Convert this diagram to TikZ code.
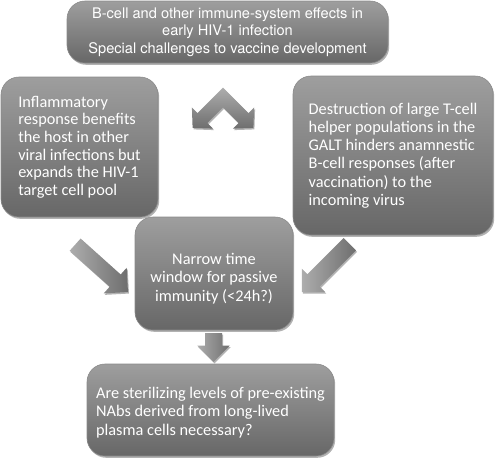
\documentclass[tikz,border=0pt]{standalone}
\usepackage{fontspec}
\newfontfamily\boxfont{Carlito}
\newfontfamily\topfont{TeX Gyre Heros}
\usetikzlibrary{shapes.arrows,shadows}
\definecolor{boxtop}{HTML}{9E9E9E}
\definecolor{boxbot}{HTML}{676767}
\definecolor{boxline}{HTML}{8A8A8A}
\definecolor{arrlight}{HTML}{ADADAD}
\definecolor{arrdark}{HTML}{6E6E6E}
\tikzset{
  box/.style={rounded corners=18pt, draw=boxline, line width=0.6pt,
    top color=boxtop, bottom color=boxbot, text=white, inner sep=0pt,
    drop shadow={shadow xshift=1.2pt, shadow yshift=-1.8pt, opacity=0.3, fill=black}},
  boxtext/.style={font=\boxfont\fontsize{16.3}{18.3}\selectfont},
  lefttext/.style={font=\boxfont\fontsize{16.3}{17.6}\selectfont},
  toptext/.style={font=\topfont\fontsize{14.6}{17.5}\selectfont},
  blockarr/.style={single arrow, draw=none, inner xsep=0pt, anchor=tail,
    left color=arrlight, right color=arrdark,
    drop shadow={shadow xshift=1pt, shadow yshift=-1.5pt, opacity=0.3, fill=black}},
  chevron/.style={draw=none, top color=arrlight, bottom color=arrdark,
    drop shadow={shadow xshift=1pt, shadow yshift=-1.5pt, opacity=0.3, fill=black}}
}
\begin{document}
\begin{tikzpicture}[x=1pt, y=-1pt]
\useasboundingbox (0,0) rectangle (495,459);

% boxes
\node[box, toptext, align=center, minimum width=321pt, minimum height=62pt] (top) at (227.5,32)
  {B-cell and other immune-system effects in\\ early HIV-1 infection\\ Special challenges to vaccine development};
\node[box, lefttext, align=left, minimum width=157pt, minimum height=140pt] (left) at (79.5,147)
  {Inflammatory\\ response benefits\\ the host in other\\ viral infections but\\ expands the HIV-1\\ target cell pool};
\node[box, boxtext, align=left, minimum width=200pt, minimum height=159pt] (right) at (393,155.5)
  {Destruction of large T-cell\\ helper populations in the\\ GALT hinders anamnestic\\ B-cell responses (after\\ vaccination) to the\\ incoming virus};
\node[box, minimum width=158pt, minimum height=113pt] (mid) at (214,273.5) {};
\node[boxtext, text=white, align=center, inner sep=0pt] (midtext) at (214,278.5)
  {Narrow time\\ window for passive\\ immunity (<24h?)};
\node[box, minimum width=247pt, minimum height=92pt] (bot) at (210.5,410) {};
\node[boxtext, text=white, align=left, inner sep=0pt] (bottext) at (210.5,412.5)
  {Are sterilizing levels of pre-existing\\ NAbs derived from long-lived\\ plasma cells necessary?};

% chevron double arrow
\path[chevron] (223,87.6) -- (197.55,113.05) -- (191.9,107.4) -- (192.6,127.9)
  -- (213.1,128.6) -- (207.45,122.95) -- (223,107.4) -- (238.55,122.95)
  -- (232.9,128.6) -- (253.4,127.9) -- (254.1,107.4) -- (248.45,113.05) -- cycle;

% block arrows
\coordinate (lt) at (75,244.5);
\coordinate (rt) at (350,244);
\coordinate (dt) at (213.5,333);
\node[blockarr, inner ysep=8pt, single arrow head extend=9pt, minimum height=71pt, rotate=-41.9] (larr) at (lt) {};
\node[blockarr, inner ysep=8.5pt, single arrow head extend=8pt, minimum height=68pt, rotate=-135] (rarr) at (rt) {};
\node[blockarr, inner ysep=8.3pt, single arrow head extend=7.7pt, minimum height=28.7pt, rotate=-90] (darr) at (dt) {};
\end{tikzpicture}
\end{document}
